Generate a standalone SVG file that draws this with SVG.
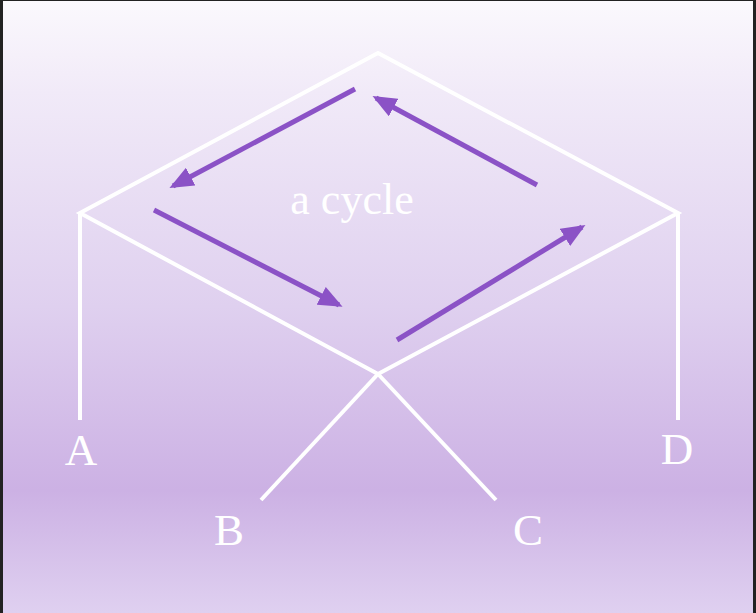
<svg xmlns="http://www.w3.org/2000/svg" width="756" height="613" viewBox="0 0 756 613">
  <defs>
    <linearGradient id="bg" x1="0" y1="0" x2="0" y2="613" gradientUnits="userSpaceOnUse">
      <stop offset="0" stop-color="#fbf9fd"/>
      <stop offset="0.15" stop-color="#f1eaf8"/>
      <stop offset="0.5" stop-color="#dfd0ef"/>
      <stop offset="0.8" stop-color="#ccb1e4"/>
      <stop offset="1" stop-color="#dfd0f0"/>
    </linearGradient>
    <marker id="ah" viewBox="0 0 24 20" refX="20" refY="10" markerWidth="24" markerHeight="20" markerUnits="userSpaceOnUse" orient="auto">
      <path d="M0,0 L24,10 L0,20 Z" fill="#8b52c6"/>
    </marker>
    <style>
      .edge { stroke: #ffffff; stroke-width: 4; fill: none; stroke-linecap: butt; }
      .arrow { stroke: #8b52c6; stroke-width: 5; fill: none; marker-end: url(#ah); }
      .lbl { font-family: "Liberation Serif", "DejaVu Serif", serif; fill: #ffffff; text-anchor: middle; }
    </style>
  </defs>
  <rect x="0" y="0" width="756" height="613" fill="#222222"/>
  <rect x="3" y="1" width="750" height="612" fill="url(#bg)"/>

  <g id="connectors">
    <path class="edge" d="M80,213 L378,53 L678,213 L378,374 Z"/>
    <line class="edge" x1="80" y1="213" x2="80" y2="420"/>
    <line class="edge" x1="678" y1="213" x2="678" y2="420"/>
    <line class="edge" x1="378" y1="374" x2="261" y2="500"/>
    <line class="edge" x1="378" y1="374" x2="496" y2="500"/>
    <line class="arrow" x1="355" y1="89" x2="173" y2="186"/>
    <line class="arrow" x1="154" y1="210" x2="339" y2="305"/>
    <line class="arrow" x1="397" y1="340" x2="582" y2="227"/>
    <line class="arrow" x1="537" y1="185" x2="376" y2="98"/>
  </g>

  <g id="cycle-label"><text class="lbl" x="352" y="214" font-size="44">a cycle</text></g>
  <g id="node-A"><text class="lbl" x="81" y="465" font-size="45">A</text></g>
  <g id="node-B"><text class="lbl" x="229" y="545" font-size="45">B</text></g>
  <g id="node-C"><text class="lbl" x="528" y="545" font-size="45">C</text></g>
  <g id="node-D"><text class="lbl" x="677" y="464" font-size="45">D</text></g>
</svg>
